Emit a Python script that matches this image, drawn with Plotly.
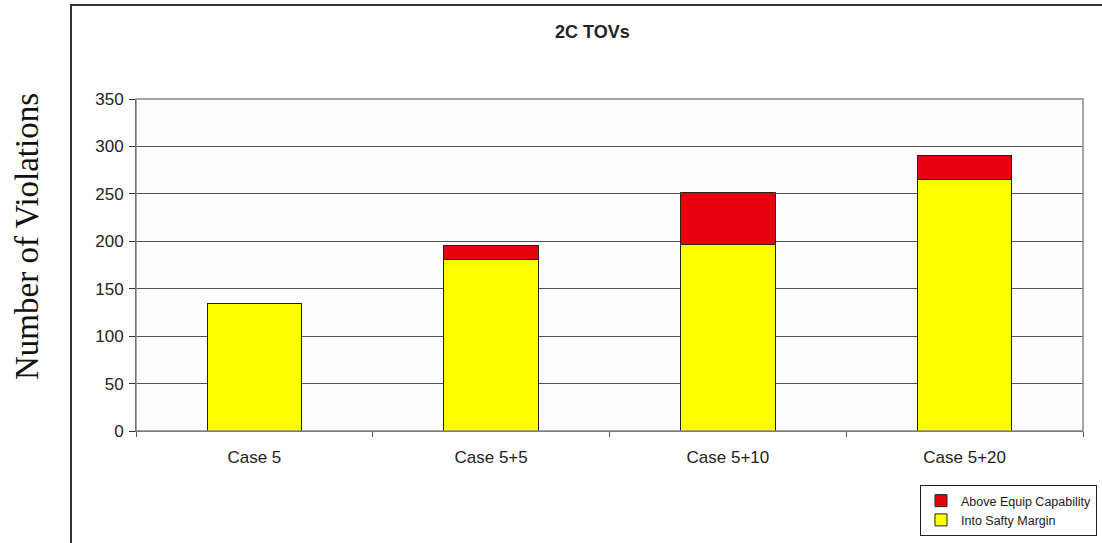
import plotly.graph_objects as go

categories = ["Case 5", "Case 5+5", "Case 5+10", "Case 5+20"]
into_safety = [134, 181, 197, 265]
above_equip = [0, 15, 54, 25]
y_ticks = [0, 50, 100, 150, 200, 250, 300, 350]

W, H = 1102, 543
L, R, T, B = 136, 19, 99, 112
pw, ph = W - L - R, H - T - B

def px_x(x):
    return (x - L) / pw

def px_y(y):
    return (H - B - y) / ph

fig = go.Figure()
fig.add_trace(go.Bar(
    x=categories, y=into_safety, name="Into Safty Margin",
    marker=dict(color="#ffff00", line=dict(color="#222222", width=1)),
    width=0.4,
))
fig.add_trace(go.Bar(
    x=categories, y=above_equip, name="Above Equip Capability",
    marker=dict(color="#e8000f", line=dict(color="#222222", width=1)),
    width=0.4,
))

fig.update_layout(
    width=W, height=H,
    margin=dict(l=L, r=R, t=T, b=B, pad=0, autoexpand=False),
    barmode="stack",
    paper_bgcolor="white",
    plot_bgcolor="#fdfdfd",
    font=dict(family="Liberation Sans, Arial, sans-serif", color="#222222"),
    showlegend=True,
    legend=dict(
        x=px_x(1097), y=px_y(485), xanchor="right", yanchor="top",
        bgcolor="white", bordercolor="#222222", borderwidth=1,
        traceorder="reversed", font=dict(size=12.5, color="#1a1a1a"),
        itemwidth=30, tracegroupgap=0,
    ),
    xaxis=dict(
        range=[-0.5, 3.5], showgrid=False, showline=True,
        linecolor="#555555", linewidth=1,
        ticks="outside", tickson="boundaries", ticklen=5, tickcolor="#555555",
        tickfont=dict(size=17, color="#222222"), zeroline=False,
        ticklabelstandoff=11,
    ),
    yaxis=dict(
        range=[0, 350], tickvals=y_ticks, showgrid=True,
        gridcolor="#555555", gridwidth=1,
        showline=True, linecolor="#333333", linewidth=1,
        ticks="outside", ticklen=6, tickcolor="#333333",
        tickfont=dict(size=17, color="#222222"), zeroline=False,
        ticklabelstandoff=2,
    ),
    shapes=[
        dict(type="rect", xref="paper", yref="paper", x0=0, y0=0, x1=1, y1=1,
             line=dict(color="#888888", width=1.5), fillcolor="rgba(0,0,0,0)", layer="above"),
        dict(type="rect", xref="paper", yref="paper",
             x0=px_x(71), y0=px_y(560), x1=px_x(1130), y1=px_y(5),
             line=dict(color="#333333", width=2), fillcolor="rgba(0,0,0,0)", layer="below"),
    ],
    annotations=[
        dict(text="<b>2C TOVs</b>", xref="paper", yref="paper",
             x=px_x(592), y=px_y(32), xanchor="center", yanchor="middle", showarrow=False,
             font=dict(size=18, color="#222222", family="Liberation Sans, Arial, sans-serif")),
        dict(text="Number of Violations", xref="paper", yref="paper",
             x=px_x(27), y=px_y(237), xanchor="center", yanchor="middle",
             showarrow=False, textangle=-90,
             font=dict(size=33, color="#111111", family="Liberation Serif, Times New Roman, serif")),
    ],
)

fig.write_html("out.html")
